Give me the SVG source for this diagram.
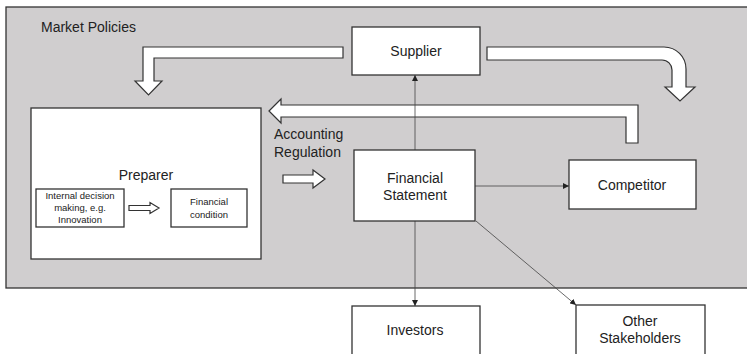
<svg xmlns="http://www.w3.org/2000/svg" width="747" height="354" viewBox="0 0 747 354">
<defs>
<style>
text{font-family:"Liberation Sans",Arial,sans-serif;fill:#222;text-anchor:middle}
.box{fill:#fff;stroke:#333;stroke-width:1.3}
.blk{fill:#fff;stroke:#333;stroke-width:1.2;stroke-linejoin:miter}
.conn{stroke:#444;stroke-width:0.8;fill:none}
.lbl{font-size:14px}
.sm{font-size:9.5px}
</style>
<marker id="ah" viewBox="0 0 10 10" refX="10" refY="5" markerWidth="6" markerHeight="6" orient="auto" markerUnits="userSpaceOnUse">
<path d="M0,0 L10,5 L0,10 Z" fill="#222"/>
</marker>
</defs>
<rect width="747" height="354" fill="#fff"/>
<g id="market">
<rect x="6" y="7" width="760" height="281" fill="#d0cecf" stroke="#333" stroke-width="1.3"/>
<text class="lbl" x="41" y="32" style="text-anchor:start">Market Policies</text>
</g>
<g id="block-arrows">
<path class="blk" d="M343,47 L143,47 L143,81 L135,81 L148.5,95 L162,81 L154,81 L154,58 L343,58 Z"/>
<path class="blk" d="M487,47 L664,47 A22,22 0 0 1 686,69 L686,87 L695,87 L680,101 L665,87 L672,87 L672,70 A10,10 0 0 0 662,60 L487,60 Z"/>
<path class="blk" d="M269,111 L281,99 L281,105 L638,105 L638,143 L626,143 L626,117 L281,117 L281,123 Z"/>
<path class="blk" d="M283,175 L313,175 L313,170 L325,179 L313,188 L313,183 L283,183 Z"/>
</g>
<g id="connectors">
<line class="conn" x1="415" y1="150" x2="415" y2="75" marker-end="url(#ah)"/>
<line class="conn" x1="475" y1="186" x2="569" y2="186" marker-end="url(#ah)"/>
<line class="conn" x1="415" y1="221" x2="415" y2="306" marker-end="url(#ah)"/>
<line class="conn" x1="476" y1="221" x2="576" y2="305" marker-end="url(#ah)"/>
</g>
<g id="supplier">
<rect class="box" x="352" y="27" width="128" height="48"/>
<text class="lbl" x="416" y="56">Supplier</text>
</g>
<g id="preparer">
<rect class="box" x="31" y="108" width="230" height="151"/>
<text class="lbl" x="146" y="180">Preparer</text>
</g>
<g id="internal">
<rect class="box" x="36" y="189" width="88" height="38"/>
<text class="sm" x="80" y="199">Internal decision</text>
<text class="sm" x="80" y="211">making, e.g.</text>
<text class="sm" x="80" y="223">Innovation</text>
</g>
<path class="blk" d="M129,205.5 L150,205.5 L150,202.5 L159,208 L150,213.5 L150,210.5 L129,210.5 Z"/>
<g id="condition">
<rect class="box" x="171" y="189" width="76" height="38"/>
<text class="sm" x="209" y="205">Financial</text>
<text class="sm" x="209" y="218">condition</text>
</g>
<g id="regulation">
<text class="lbl" x="274" y="139" style="text-anchor:start">Accounting</text>
<text class="lbl" x="274" y="157" style="text-anchor:start">Regulation</text>
</g>
<g id="statement">
<rect class="box" x="354" y="150" width="121" height="71"/>
<text class="lbl" x="415" y="183">Financial</text>
<text class="lbl" x="415" y="200">Statement</text>
</g>
<g id="competitor">
<rect class="box" x="569" y="160" width="127" height="49"/>
<text class="lbl" x="632" y="190">Competitor</text>
</g>
<g id="investors">
<rect class="box" x="352" y="306" width="128" height="60"/>
<text class="lbl" x="415" y="335">Investors</text>
</g>
<g id="others">
<rect class="box" x="576" y="305" width="129" height="60"/>
<text class="lbl" x="640" y="326">Other</text>
<text class="lbl" x="640" y="343">Stakeholders</text>
</g>
</svg>
